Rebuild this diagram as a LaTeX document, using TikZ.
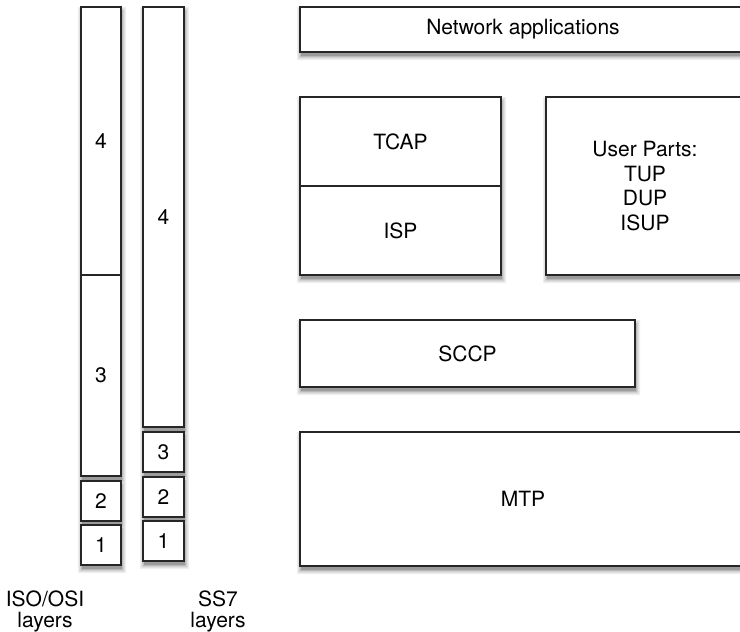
\documentclass[tikz,border=0pt]{standalone}
\usepackage{fontspec}
\setmainfont{TeX Gyre Heros}
\definecolor{shadeA}{RGB}{238,238,238}
\definecolor{shadeB}{RGB}{218,218,218}
\definecolor{shadeC}{RGB}{190,190,190}
\definecolor{shadeD}{RGB}{155,155,155}
\begin{document}
\begin{tikzpicture}[x=1pt, y=-1pt,
  font=\fontsize{21}{21}\selectfont,
  part/.style={draw=black!85, line width=1.3pt, fill=white, inner sep=0pt, align=center},
  caption/.style={align=center, inner sep=0pt, font=\fontsize{21}{21}\selectfont}
]
\useasboundingbox (0,0) rectangle (740,632);

% soft drop shadows: nested bands, lighter outside, darker inside
\fill[shadeA]
  (78,7) rectangle (126,484)       (78,481) rectangle (126,529)
  (78,525) rectangle (126,573)     (140,7) rectangle (189,435)
  (140,432) rectangle (189,480)    (140,477) rectangle (189,525)
  (140,521) rectangle (189,569)    (297,7) rectangle (751,60)
  (297,97) rectangle (506,283)     (543,97) rectangle (749,283)
  (297,320) rectangle (640,395)    (297,432) rectangle (751,574);
\fill[shadeB]
  (79.3,8.3) rectangle (124.7,482.7)     (79.3,482.3) rectangle (124.7,527.7)
  (79.3,526.3) rectangle (124.7,571.7)   (141.3,8.3) rectangle (187.7,433.7)
  (141.3,433.3) rectangle (187.7,478.7)  (141.3,478.3) rectangle (187.7,523.7)
  (141.3,522.3) rectangle (187.7,567.7)  (298.3,8.3) rectangle (749.7,58.7)
  (298.3,98.3) rectangle (504.7,281.7)   (544.3,98.3) rectangle (747.7,281.7)
  (298.3,321.3) rectangle (638.7,393.7)  (298.3,433.3) rectangle (749.7,572.7);
\fill[shadeC]
  (80.6,9.6) rectangle (123.4,481.4)     (80.6,483.6) rectangle (123.4,526.4)
  (80.6,527.6) rectangle (123.4,570.4)   (142.6,9.6) rectangle (186.4,432.4)
  (142.6,434.6) rectangle (186.4,477.4)  (142.6,479.6) rectangle (186.4,522.4)
  (142.6,523.6) rectangle (186.4,566.4)  (299.6,9.6) rectangle (748.4,57.4)
  (299.6,99.6) rectangle (503.4,280.4)   (545.6,99.6) rectangle (746.4,280.4)
  (299.6,322.6) rectangle (637.4,392.4)  (299.6,434.6) rectangle (748.4,571.4);
\fill[shadeD]
  (82,11) rectangle (122,480)      (82,485) rectangle (122,525)
  (82,529) rectangle (122,569)     (144,11) rectangle (185,431)
  (144,436) rectangle (185,476)    (144,481) rectangle (185,521)
  (144,525) rectangle (185,565)    (301,11) rectangle (747,56)
  (301,101) rectangle (502,279)    (547,101) rectangle (745,279)
  (301,324) rectangle (636,391)    (301,436) rectangle (747,570);

% ISO/OSI stack
\node[part, minimum width=40pt, minimum height=268pt] (osi4) at (101,141) {4};
\node[part, minimum width=40pt, minimum height=201pt] (osi3) at (101,375.5) {3};
\node[part, minimum width=40pt, minimum height=40pt] (osi2) at (101,501) {2};
\node[part, minimum width=40pt, minimum height=40pt] (osi1) at (101,545) {1};

% SS7 stack
\node[part, minimum width=41pt, minimum height=420pt] (ss4) at (163.5,217) {4};
\node[part, minimum width=41pt, minimum height=40pt] (ss3) at (163.5,452) {3};
\node[part, minimum width=41pt, minimum height=40pt] (ss2) at (163.5,497) {2};
\node[part, minimum width=41pt, minimum height=40pt] (ss1) at (163.5,541) {1};

\node[caption] (osicap) at (45,611) {ISO/OSI\\layers};
\node[caption] (sscap) at (218,611) {SS7\\layers};

% SS7 protocol blocks
\node[part, minimum width=446pt, minimum height=45pt] (apps) at (523,29.5) {Network applications};

\node[part, minimum width=201pt, minimum height=89pt] (tcap) at (400.5,141.5) {TCAP};
\node[part, minimum width=201pt, minimum height=89pt] (isp) at (400.5,230.5) {ISP};

\node[part, minimum width=198pt, minimum height=178pt,
  font=\fontsize{21}{24.5}\selectfont] (user) at (645,186)
  {User Parts:\\TUP\\DUP\\ISUP};

\node[part, minimum width=335pt, minimum height=67pt] (sccp) at (467.5,353.5) {SCCP};

\node[part, minimum width=446pt, minimum height=134pt] (mtp) at (523,499) {MTP};
\end{tikzpicture}
\end{document}
